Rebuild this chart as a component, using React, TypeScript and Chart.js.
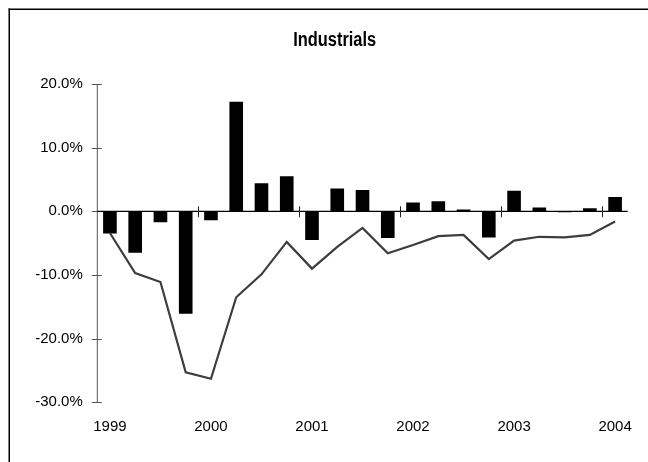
import React, { useEffect, useRef } from "react";
import { Chart, registerables } from "chart.js";

Chart.register(...registerables);

const TITLE = "Industrials";

const categories = [
  "1999 Q1", "1999 Q2", "1999 Q3", "1999 Q4",
  "2000 Q1", "2000 Q2", "2000 Q3", "2000 Q4",
  "2001 Q1", "2001 Q2", "2001 Q3", "2001 Q4",
  "2002 Q1", "2002 Q2", "2002 Q3", "2002 Q4",
  "2003 Q1", "2003 Q2", "2003 Q3", "2003 Q4",
  "2004 Q1",
];

const barValues = [
  -3.5, -6.5, -1.7, -16.1,
  -1.4, 17.2, 4.4, 5.5,
  -4.5, 3.6, 3.35, -4.2,
  1.4, 1.6, 0.3, -4.1,
  3.25, 0.6, -0.15, 0.5,
  2.25,
];

const lineValues = [
  -3.4, -9.7, -11.1, -25.3,
  -26.3, -13.5, -9.9, -4.8,
  -9.0, -5.6, -2.6, -6.6,
  -5.3, -3.9, -3.7, -7.5,
  -4.6, -4.0, -4.1, -3.7,
  -1.6,
];

const yMin = -30;
const yMax = 20;
const yStep = 10;

const FONT = "'Liberation Sans', Arial, sans-serif";

const decor = {
  id: "decor",
  afterDraw(chart: any) {
    const { ctx, chartArea, scales } = chart;
    const x = scales.x;
    const y = scales.y;
    ctx.save();
    // outer frame (left and top edges)
    ctx.fillStyle = "#000";
    ctx.fillRect(8.5, 8.5, 1.5, 470);
    ctx.fillRect(8.5, 8.5, 660, 1.5);

    // title in a condensed bold face
    ctx.save();
    ctx.translate(334.7, 40);
    ctx.scale(0.82, 1);
    ctx.font = "bold 20px " + FONT;
    ctx.textAlign = "center";
    ctx.textBaseline = "middle";
    ctx.fillStyle = "#000";
    ctx.fillText(TITLE, 0, 0);
    ctx.restore();

    // y axis line with crossing ticks
    const ax = chartArea.left;
    ctx.strokeStyle = "#555";
    ctx.lineWidth = 1;
    ctx.beginPath();
    ctx.moveTo(ax, y.getPixelForValue(yMax));
    ctx.lineTo(ax, y.getPixelForValue(yMin));
    ctx.stroke();
    y.ticks.forEach((t: any) => {
      const py = Math.round(y.getPixelForValue(t.value)) + 0.5;
      ctx.beginPath();
      ctx.moveTo(ax - 5.5, py);
      ctx.lineTo(ax + 4.5, py);
      ctx.stroke();
    });

    // zero line
    const y0 = y.getPixelForValue(0);
    ctx.strokeStyle = "#000";
    ctx.lineWidth = 1.3;
    ctx.beginPath();
    ctx.moveTo(ax, y0);
    ctx.lineTo(chartArea.right, y0);
    ctx.stroke();

    // year tick marks on the zero line
    ctx.lineWidth = 1;
    ctx.strokeStyle = "#222";
    categories.forEach((c, i) => {
      if (i > 0 && i % 4 === 0) {
        const px = Math.round((x.getPixelForValue(i - 1) + x.getPixelForValue(i)) / 2) + 0.5;
        ctx.beginPath();
        ctx.moveTo(px, y0 - 5);
        ctx.lineTo(px, y0 + 6);
        ctx.stroke();
      }
    });
    ctx.restore();
  },
};

export default function App() {
  const ref = useRef<HTMLCanvasElement | null>(null);

  useEffect(() => {
    if (!ref.current) return;
    const chart = new Chart(ref.current, {
      type: "bar",
      data: {
        labels: categories,
        datasets: [
          {
            type: "line",
            data: lineValues,
            borderColor: "#3d3d3d",
            borderWidth: 2.2,
            pointRadius: 0,
            tension: 0,
            fill: false,
            order: 0,
          } as any,
          {
            type: "bar",
            data: barValues,
            backgroundColor: "#000",
            borderWidth: 0,
            barPercentage: 0.54,
            categoryPercentage: 1,
            order: 1,
          },
        ],
      },
      options: {
        animation: false,
        responsive: true,
        maintainAspectRatio: false,
        layout: { padding: { left: 0, right: 9, top: 84, bottom: 0 } },
        plugins: {
          legend: { display: false },
          tooltip: { enabled: false },
          title: { display: false },
        },
        scales: {
          x: {
            grid: { display: false, drawTicks: false },
            border: { display: false },
            offset: true,
            ticks: {
              autoSkip: false,
              maxRotation: 0,
              padding: 16,
              color: "#000",
              font: { family: FONT, size: 15 },
              callback: (v: any, i: number) => (i % 4 === 0 ? categories[i].slice(0, 4) : null),
            },
            afterFit: (s: any) => {
              s.height = 59.7;
            },
          },
          y: {
            min: yMin,
            max: yMax,
            grid: { display: false, drawTicks: false },
            border: { display: false },
            ticks: {
              stepSize: yStep,
              padding: 14.5,
              color: "#000",
              font: { family: FONT, size: 15 },
              callback: (v: any) => Number(v).toFixed(1) + "%",
            },
            afterFit: (s: any) => {
              s.width = 97.3;
            },
          },
        },
      },
      plugins: [decor],
    });
    return () => chart.destroy();
  }, []);

  return (
    <div style={{ position: "fixed", left: 0, top: 0, width: 648, height: 462, background: "#fff" }}>
      <canvas ref={ref} />
    </div>
  );
}
